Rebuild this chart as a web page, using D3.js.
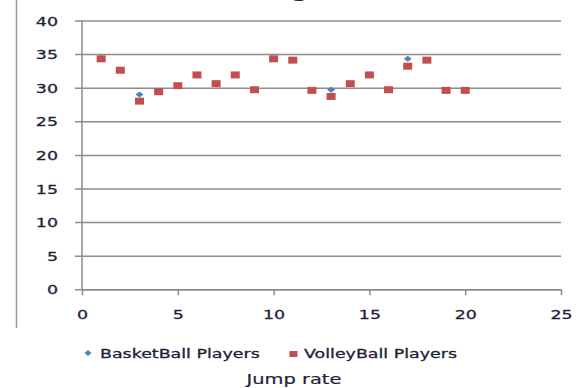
<!DOCTYPE html>
<html>
<head>
<meta charset="utf-8">
<script src="https://cdn.jsdelivr.net/npm/d3@7"></script>
<style>
  html, body { margin: 0; padding: 0; background: #fff; }
  svg { display: block; }
  text { font-family: "DejaVu Sans", Verdana, sans-serif; }
</style>
</head>
<body>
<svg id="chart" width="579" height="388"></svg>
<script>
// Jump test results per player index
const playerIndex = [1, 2, 3, 4, 5, 6, 7, 8, 9, 10, 11, 12, 13, 14, 15, 16, 17, 18, 19, 20];
const basketballPlayers = [34.3, 32.6, 29.0, 29.4, 30.3, 31.9, 30.6, 31.9, 29.7, 34.3, 34.1, 29.6, 29.7, 30.6, 31.9, 29.7, 34.3, 34.1, 29.6, 29.6];
const volleyballPlayers = [34.3, 32.6, 28.0, 29.4, 30.3, 31.9, 30.6, 31.9, 29.7, 34.3, 34.1, 29.6, 28.7, 30.6, 31.9, 29.7, 33.2, 34.1, 29.6, 29.6];
const xTicks = [0, 5, 10, 15, 20, 25];
const yTicks = [0, 5, 10, 15, 20, 25, 30, 35, 40];
const seriesNames = ["BasketBall Players", "VolleyBall Players"];
const xTitle = "Jump rate";

const svg = d3.select("#chart");
const blue = "#4F81BD", red = "#C0504D";
const textColor = "#1F1F3A";
const stretch = 1.34; // text is drawn wide, short glyphs

const x = d3.scaleLinear().domain([0, 25]).range([82, 561]);
const y = d3.scaleLinear().domain([0, 40]).range([289.3, 20.5]);

// widened text helper
function wideText(sel, tx, ty, size, anchor, str) {
  return sel.append("text")
    .attr("transform", `translate(${tx},${ty}) scale(${stretch},1)`)
    .attr("text-anchor", anchor)
    .attr("font-size", size)
    .attr("fill", textColor)
    .attr("stroke", textColor).attr("stroke-width", 0.3)
    .text(str);
}

// chart frame edge on the left
svg.append("line")
  .attr("x1", 16.5).attr("x2", 16.5).attr("y1", 0).attr("y2", 328)
  .attr("stroke", "#9a9a9a").attr("stroke-width", 1.5);

// title fragment at the top edge
svg.append("text")
  .attr("transform", `translate(300,-3) scale(${stretch},1)`)
  .attr("text-anchor", "middle")
  .attr("font-size", 18).attr("font-weight", "bold")
  .attr("fill", "#222").text("g");

// horizontal gridlines with left tick stubs
const yAxis = d3.axisLeft(y).tickValues(yTicks).tickSize(-(561 - 75)).tickSizeOuter(0)
  .tickPadding(18).tickFormat(d3.format("d"));
const gy = svg.append("g").attr("transform", "translate(75,0)").call(yAxis);
gy.select(".domain").remove();
gy.selectAll(".tick line").attr("stroke", "#8c8c8c").attr("stroke-width", 1.5);
gy.selectAll(".tick text")
  .attr("x", 0).attr("dy", "0.36em")
  .attr("transform", `translate(-17,0) scale(${stretch},1)`)
  .attr("font-size", 13).attr("fill", textColor)
  .attr("stroke", textColor).attr("stroke-width", 0.3);

// y axis line
svg.append("line")
  .attr("x1", x(0)).attr("x2", x(0)).attr("y1", y(40)).attr("y2", y(0))
  .attr("stroke", "#8c8c8c").attr("stroke-width", 1.5);

// x axis
const xAxis = d3.axisBottom(x).tickValues(xTicks).tickSize(6).tickSizeOuter(0)
  .tickPadding(14).tickFormat(d3.format("d"));
const gx = svg.append("g").attr("transform", `translate(0,${y(0)})`).call(xAxis);
gx.select(".domain").attr("stroke", "#8c8c8c").attr("stroke-width", 1.5);
gx.selectAll(".tick line").attr("stroke", "#8c8c8c").attr("stroke-width", 1.5);
gx.selectAll(".tick text")
  .attr("transform", `scale(${stretch},1)`)
  .attr("font-size", 13).attr("fill", textColor)
  .attr("stroke", textColor).attr("stroke-width", 0.3);

// basketball markers (diamonds)
const diamond = (cx, cy, w, h) => `M${cx},${cy - h / 2}L${cx + w / 2},${cy}L${cx},${cy + h / 2}L${cx - w / 2},${cy}Z`;
svg.append("g").selectAll("path")
  .data(playerIndex.map((d, i) => [d, basketballPlayers[i]]))
  .join("path")
  .attr("d", d => diamond(x(d[0]), y(d[1]), 8, 6))
  .attr("fill", blue);

// volleyball markers (squares)
svg.append("g").selectAll("rect")
  .data(playerIndex.map((d, i) => [d, volleyballPlayers[i]]))
  .join("rect")
  .attr("x", d => x(d[0]) - 4.5).attr("y", d => y(d[1]) - 3.5)
  .attr("width", 9).attr("height", 7)
  .attr("fill", red);

// legend
const lg = svg.append("g");
lg.append("path").attr("d", diamond(88, 353, 7, 6)).attr("fill", blue);
wideText(lg, 100, 358, 13, "start", seriesNames[0]);
lg.append("rect").attr("x", 289.5).attr("y", 351).attr("width", 8).attr("height", 6).attr("fill", red);
wideText(lg, 304, 358, 13, "start", seriesNames[1]);

// axis title
wideText(svg, 294, 384, 14.5, "middle", xTitle).attr("stroke-width", 0.2);
</script>
</body>
</html>
